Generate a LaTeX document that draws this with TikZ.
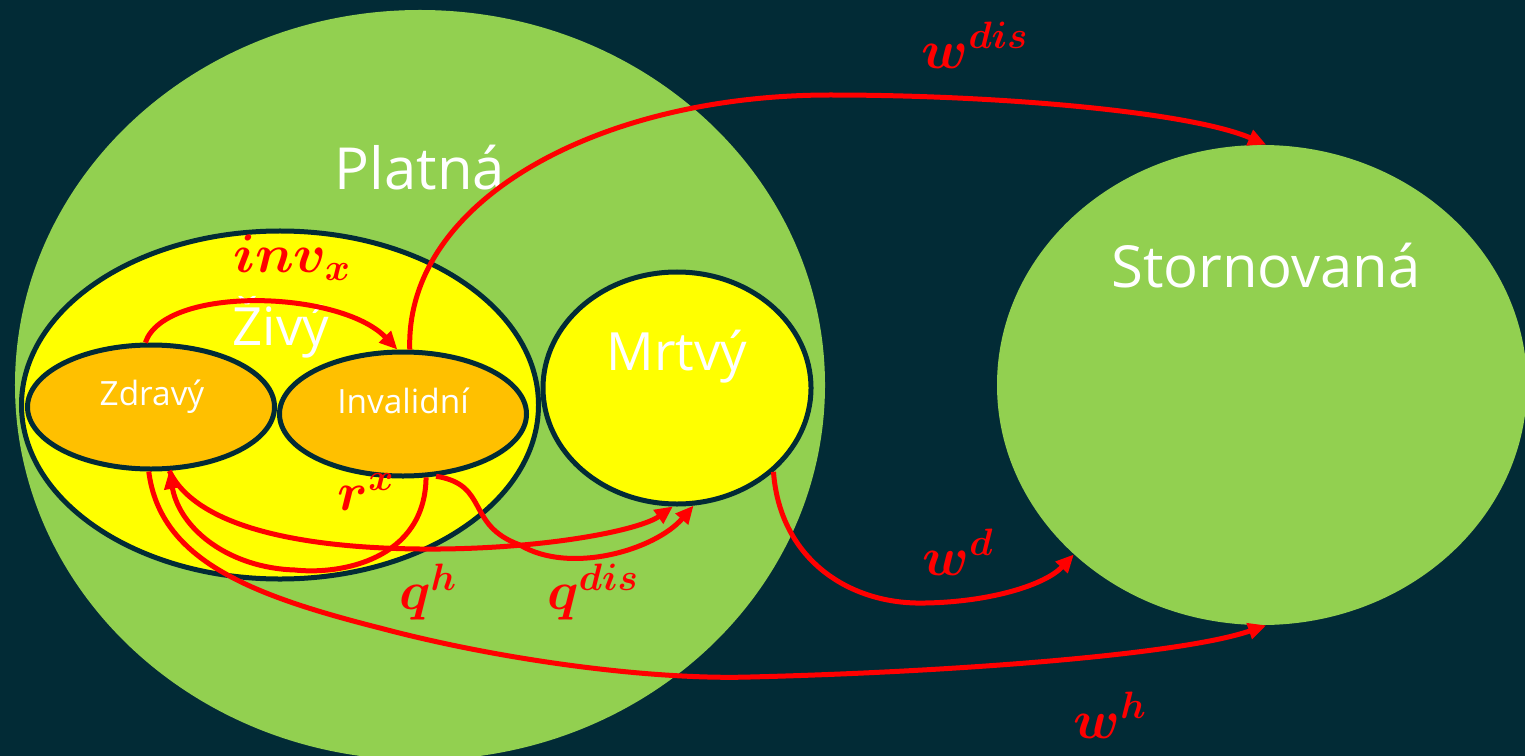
\RequirePackage{fix-cm}
\documentclass[tikz,border=0pt]{standalone}
\usepackage{fontspec}
\usepackage{bm}
\usetikzlibrary{arrows.meta,shapes.geometric,positioning}
\newfontfamily\uisans{Open Sans}
\definecolor{bgteal}{HTML}{022B36}
\definecolor{leaf}{HTML}{92D050}
\definecolor{lemon}{HTML}{FFFF00}
\definecolor{amber}{HTML}{FFC000}
\definecolor{flowred}{HTML}{FF0000}
\tikzset{
  zone/.style={ellipse, fill=leaf, inner sep=0pt},
  state/.style={
    ellipse,
    draw=bgteal,
    line width=1mm,
    inner sep=0pt
  },
  bigtxt/.style={text=white, font=\uisans\fontsize{33}{36}\selectfont, inner sep=0pt, anchor=base},
  midtxt/.style={text=white, font=\uisans\fontsize{30}{32}\selectfont, inner sep=0pt, anchor=base},
  smalltxt/.style={text=white, font=\uisans\fontsize{19}{21}\selectfont, inner sep=0pt, anchor=base},
  flow/.style={draw=flowred, line width=1mm, -{Triangle[length=3.6mm,width=3.2mm]}},
  rate/.style={text=flowred, font=\fontsize{31}{33}\selectfont, inner sep=0pt},
}

\begin{document}
\begin{tikzpicture}[x=0.2mm, y=-0.2mm]
  % one unit = one pixel of the slide, y runs downwards
  \useasboundingbox (0,0) rectangle (1525,756);
  \clip (0,0) rectangle (1525,756);
  \fill[bgteal] (0,0) rectangle (1525,756);

  % states
  \node[zone, minimum width=162mm, minimum height=150mm] (platna) at (420,385) {};
  \node[zone, minimum width=106mm, minimum height=96mm] (storno) at (1262,385) {};
  \node[state, fill=lemon, minimum width=103.4mm, minimum height=69.6mm] (zivy) at (280,405) {};
  \node[state, fill=amber, minimum width=49.4mm, minimum height=24.8mm] (zdravy) at (151,407) {};
  \node[state, fill=amber, minimum width=49.4mm, minimum height=24.8mm] (invalidni) at (403,414) {};
  \node[state, fill=lemon, minimum width=53.6mm, minimum height=46.4mm] (mrtvy) at (677,388) {};

  \node[bigtxt] (platnaT) at (420,190) {Platná};
  \node[bigtxt] (stornoT) at (1266,287) {Stornovaná};
  \node[midtxt] (zivyT) at (281,345) {Živý};
  \node[midtxt] (mrtvyT) at (677,370) {Mrtvý};
  \node[smalltxt] (zdravyT) at (152,405) {Zdravý};
  \node[smalltxt] (invalidniT) at (403,413) {Invalidní};

  % transitions
  \draw[flow] (zdravy.95) .. controls (165,285) and (340,290) .. (invalidni.95);
  \draw[flow] (invalidni.84) .. controls (405,200) and (600,95) .. (830,95)
    .. controls (1000,95) and (1190,112) .. (storno.89);
  \draw[flow] (invalidni.290) .. controls (425,560) and (340,575) .. (295,570)
    .. controls (230,568) and (180,530) .. (zdravy.286);
  \draw[flow] (zdravy.286) .. controls (200,535) and (330,550) .. (440,549)
    .. controls (550,548) and (640,530) .. (mrtvy.268);
  \draw[flow] (invalidni.298) .. controls (490,485) and (465,525) .. (520,545)
    .. controls (570,575) and (655,550) .. (mrtvy.-82);
  \draw[flow] (zdravy.268) .. controls (160,560) and (250,595) .. (380,628)
    .. controls (500,660) and (650,680) .. (750,677)
    .. controls (950,672) and (1180,655) .. (storno.271);
  \draw[flow] (mrtvy.-41) .. controls (780,560) and (850,605) .. (925,603)
    .. controls (990,602) and (1045,585) .. (storno.222);

  % rates
  \node[rate] (wdis) at (975,45) {$\bm{w}^{\bm{dis}}$};
  \node[rate] (invx) at (292,258) {$\bm{inv}_{\bm{x}}$};
  \node[rate] (rx) at (366,492) {$\bm{r}^{\bm{x}}$};
  \node[rate] (qh) at (428,592) {$\bm{q}^{\bm{h}}$};
  \node[rate] (qdis) at (593,592) {$\bm{q}^{\bm{dis}}$};
  \node[rate] (wd) at (958,552) {$\bm{w}^{\bm{d}}$};
  \node[rate] (wh) at (1110,715) {$\bm{w}^{\bm{h}}$};
\end{tikzpicture}
\end{document}
